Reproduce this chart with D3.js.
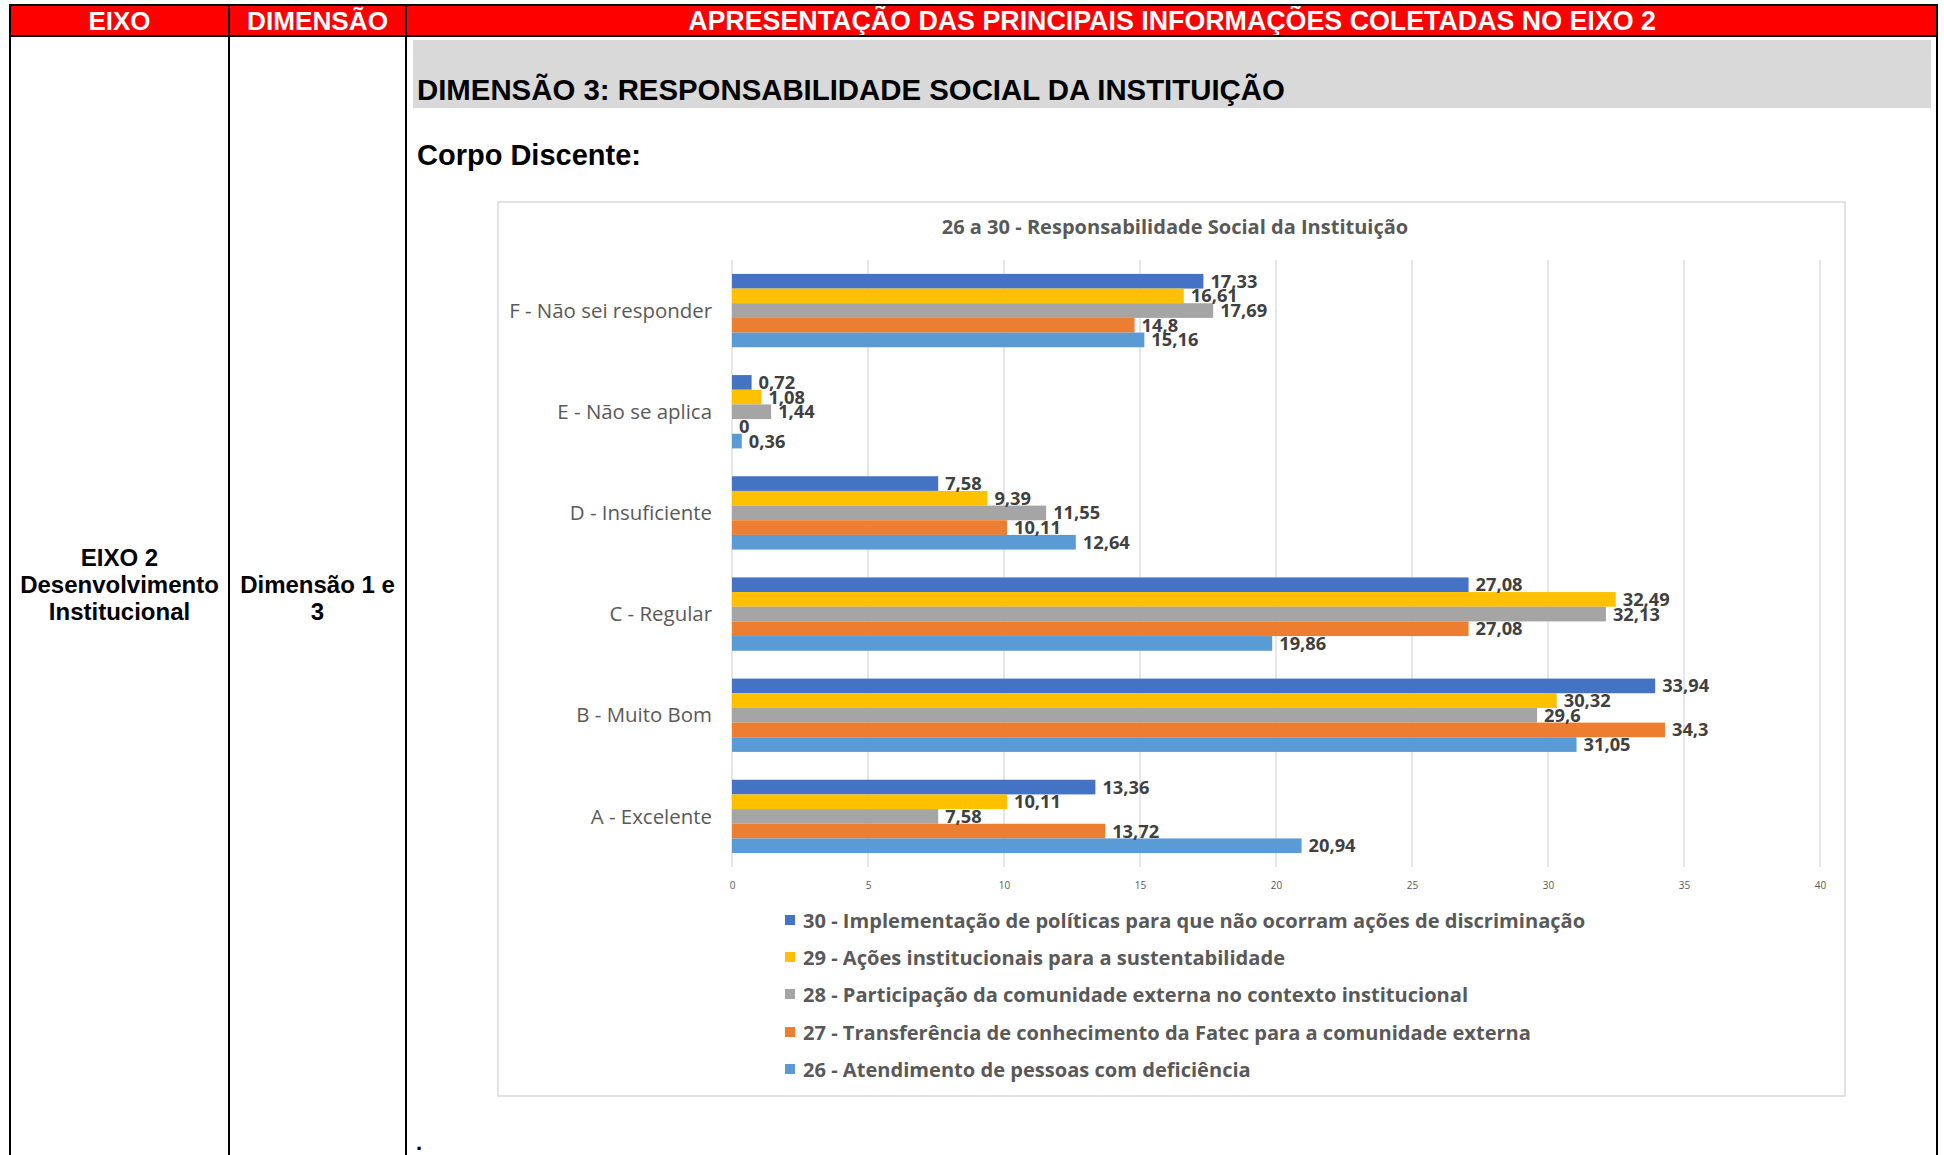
<!DOCTYPE html>
<html>
<head>
<meta charset="utf-8">
<script src="https://cdn.jsdelivr.net/npm/d3@7"></script>
<style>
  html, body { margin: 0; padding: 0; background: #ffffff; }
  svg { display: block; }
</style>
</head>
<body>
<svg id="page" width="1944" height="1155"></svg>
<script>
// ---------- DATA ----------
const headerLabels = ["EIXO", "DIMENSÃO", "APRESENTAÇÃO DAS PRINCIPAIS INFORMAÇÕES COLETADAS NO EIXO 2"];
const eixoLines = ["EIXO 2", "Desenvolvimento", "Institucional"];
const dimensaoLines = ["Dimensão 1 e", "3"];
const sectionTitle = "DIMENSÃO 3: RESPONSABILIDADE SOCIAL DA INSTITUIÇÃO";
const subTitle = "Corpo Discente:";
const chartTitle = "26 a 30 - Responsabilidade Social da Instituição";

const categories = ["F - Não sei responder", "E - Não se aplica", "D - Insuficiente", "C - Regular", "B - Muito Bom", "A - Excelente"];
const seriesNames = [
  "30 - Implementação de políticas para que não ocorram ações de discriminação",
  "29 - Ações institucionais para a sustentabilidade",
  "28 - Participação da comunidade externa no contexto institucional",
  "27 - Transferência de conhecimento da Fatec para a comunidade externa",
  "26 - Atendimento de pessoas com deficiência"
];
const s30 = [17.33, 0.72, 7.58, 27.08, 33.94, 13.36];
const s29 = [16.61, 1.08, 9.39, 32.49, 30.32, 10.11];
const s28 = [17.69, 1.44, 11.55, 32.13, 29.6, 7.58];
const s27 = [14.8, 0, 10.11, 27.08, 34.3, 13.72];
const s26 = [15.16, 0.36, 12.64, 19.86, 31.05, 20.94];
const seriesValues = [s30, s29, s28, s27, s26];
const seriesColors = ["#4472C4", "#FFC000", "#A5A5A5", "#ED7D31", "#5B9BD5"];
const tickValues = [0, 5, 10, 15, 20, 25, 30, 35, 40];

// ---------- HELPERS ----------
const svg = d3.select("#page");
const ARIAL = "Arial, 'Liberation Sans', sans-serif";
const CHARTFONT = "'Open Sans', 'Noto Sans', sans-serif";
function fitSize(sel, target) {
  const w = sel.node().getComputedTextLength();
  const fs = parseFloat(sel.attr("font-size"));
  return fs * target / w;
}
const fmt = v => String(v).replace(".", ",");

// ---------- TABLE ----------
const T = { left: 10, right: 1937, top: 5, headBottom: 36, col1: 229, col2: 406, bottom: 1160 };

svg.append("rect").attr("x", T.left).attr("y", T.top).attr("width", T.right - T.left).attr("height", T.headBottom - T.top)
  .attr("fill", "#FF0000");

const headerCenters = [(T.left + T.col1) / 2, (T.col1 + T.col2) / 2, 1172];
const headerTargets = [62, 141, 968];
headerLabels.forEach((t, i) => {
  const el = svg.append("text").attr("x", headerCenters[i]).attr("y", 30)
    .attr("text-anchor", "middle").attr("font-family", ARIAL).attr("font-weight", "bold")
    .attr("font-size", 25).attr("fill", "#ffffff").text(t);
  el.attr("font-size", Math.min(27, fitSize(el, headerTargets[i])));
});

// grid lines of table
const lineColor = "#000000";
svg.append("line").attr("x1", T.left - 1).attr("x2", T.right + 1).attr("y1", T.top).attr("y2", T.top).attr("stroke", lineColor).attr("stroke-width", 2);
svg.append("line").attr("x1", T.left - 1).attr("x2", T.right + 1).attr("y1", T.headBottom).attr("y2", T.headBottom).attr("stroke", lineColor).attr("stroke-width", 2);
[T.left, T.col1, T.col2, T.right].forEach(x => {
  svg.append("line").attr("x1", x).attr("x2", x).attr("y1", T.top).attr("y2", T.bottom).attr("stroke", lineColor).attr("stroke-width", 2);
});

// left column texts
const eixoSel = svg.append("g").attr("font-family", ARIAL).attr("font-weight", "bold").attr("fill", "#000");
eixoLines.forEach((t, i) => {
  eixoSel.append("text").attr("x", (T.left + T.col1) / 2).attr("y", 566 + i * 27)
    .attr("text-anchor", "middle").attr("font-size", 24).text(t);
});
dimensaoLines.forEach((t, i) => {
  eixoSel.append("text").attr("x", (T.col1 + T.col2) / 2).attr("y", 593 + i * 27)
    .attr("text-anchor", "middle").attr("font-size", 24).text(t);
});

// section title band
svg.append("rect").attr("x", 413).attr("y", 40).attr("width", 1518).attr("height", 68).attr("fill", "#D9D9D9");
const sec = svg.append("text").attr("x", 417).attr("y", 100).attr("font-family", ARIAL).attr("font-weight", "bold")
  .attr("font-size", 25).attr("fill", "#000").text(sectionTitle);
sec.attr("font-size", fitSize(sec, 868));

const sub = svg.append("text").attr("x", 417).attr("y", 165).attr("font-family", ARIAL).attr("font-weight", "bold")
  .attr("font-size", 29).attr("fill", "#000").text(subTitle);
sub.attr("font-size", fitSize(sub, 224));

svg.append("text").attr("x", 416).attr("y", 1150).attr("font-family", ARIAL).attr("font-weight", "bold")
  .attr("font-size", 22).attr("fill", "#000").text(".");

// ---------- CHART ----------
const box = { x: 498, y: 202, w: 1347, h: 894 };
svg.append("rect").attr("x", box.x).attr("y", box.y).attr("width", box.w).attr("height", box.h)
  .attr("fill", "#ffffff").attr("stroke", "#D9D9D9").attr("stroke-width", 1.5);

const ttl = svg.append("text").attr("x", 1175).attr("y", 234).attr("text-anchor", "middle")
  .attr("font-family", CHARTFONT).attr("font-weight", "bold").attr("font-size", 18).attr("fill", "#595959").text(chartTitle);
ttl.attr("font-size", fitSize(ttl, 467));

const plot = { x0: 732, x1: 1820, y0: 260, y1: 867 };
const x = d3.scaleLinear().domain([0, 40]).range([plot.x0, plot.x1]);
const y = d3.scaleBand().domain(categories).range([plot.y0, plot.y1]).paddingInner(0.275).paddingOuter(0.1375);
const ySub = d3.scaleBand().domain(d3.range(seriesValues.length)).range([0, y.bandwidth()]);

// gridlines
const g = svg.append("g");
g.append("g").selectAll("line").data(tickValues).join("line")
  .attr("x1", d => x(d)).attr("x2", d => x(d)).attr("y1", plot.y0).attr("y2", plot.y1)
  .attr("stroke", "#D9D9D9").attr("stroke-width", 1.3);

// x axis tick labels (via d3 axis)
const xAxis = d3.axisBottom(x).tickValues(tickValues).tickSize(0).tickPadding(0).tickFormat(d => String(d));
const ax = g.append("g").attr("transform", `translate(0,${plot.y1 + 15})`).call(xAxis);
ax.select(".domain").remove();
ax.selectAll("text").attr("font-family", CHARTFONT).attr("font-size", 10).attr("fill", "#595959");

// category labels
const catG = g.append("g").attr("font-family", CHARTFONT).attr("fill", "#595959");
const catTexts = catG.selectAll("text").data(categories).join("text")
  .attr("x", 712).attr("y", d => y(d) + y.bandwidth() / 2).attr("dy", "0.35em")
  .attr("text-anchor", "end").attr("font-size", 18).text(d => d);
const catFs = fitSize(d3.select(catTexts.nodes()[0]), 203);
catTexts.attr("font-size", catFs);

// bars
const flat = [];
seriesValues.forEach((vals, si) => vals.forEach((v, ci) => flat.push({ si, ci, v })));
g.append("g").selectAll("rect").data(flat).join("rect")
  .attr("x", x(0))
  .attr("y", d => y(categories[d.ci]) + ySub(d.si))
  .attr("width", d => x(d.v) - x(0))
  .attr("height", ySub.bandwidth())
  .attr("fill", d => seriesColors[d.si]);

// bar labels
const lblG = g.append("g").attr("font-family", CHARTFONT).attr("font-weight", "bold").attr("fill", "#404040");
const lbls = lblG.selectAll("text").data(flat).join("text")
  .attr("x", d => x(d.v) + 7)
  .attr("y", d => y(categories[d.ci]) + ySub(d.si) + ySub.bandwidth() / 2)
  .attr("dy", "0.36em").attr("font-size", 16).text(d => fmt(d.v));
const lblFs = fitSize(d3.select(lbls.nodes()[0]), 47);
lbls.attr("font-size", lblFs);

// legend
const legG = svg.append("g").attr("font-family", CHARTFONT).attr("font-weight", "bold").attr("fill", "#595959");
const legRows = [921, 958, 995, 1033, 1070];
seriesNames.forEach((name, i) => {
  legG.append("rect").attr("x", 785).attr("y", legRows[i] - 6).attr("width", 10).attr("height", 10).attr("fill", seriesColors[i]);
});
const legTexts = legG.selectAll("text").data(seriesNames).join("text")
  .attr("x", 803).attr("y", (d, i) => legRows[i]).attr("dy", "0.35em").attr("font-size", 17).text(d => d);
const legFs = fitSize(d3.select(legTexts.nodes()[0]), 783);
legTexts.attr("font-size", legFs);
</script>
</body>
</html>
